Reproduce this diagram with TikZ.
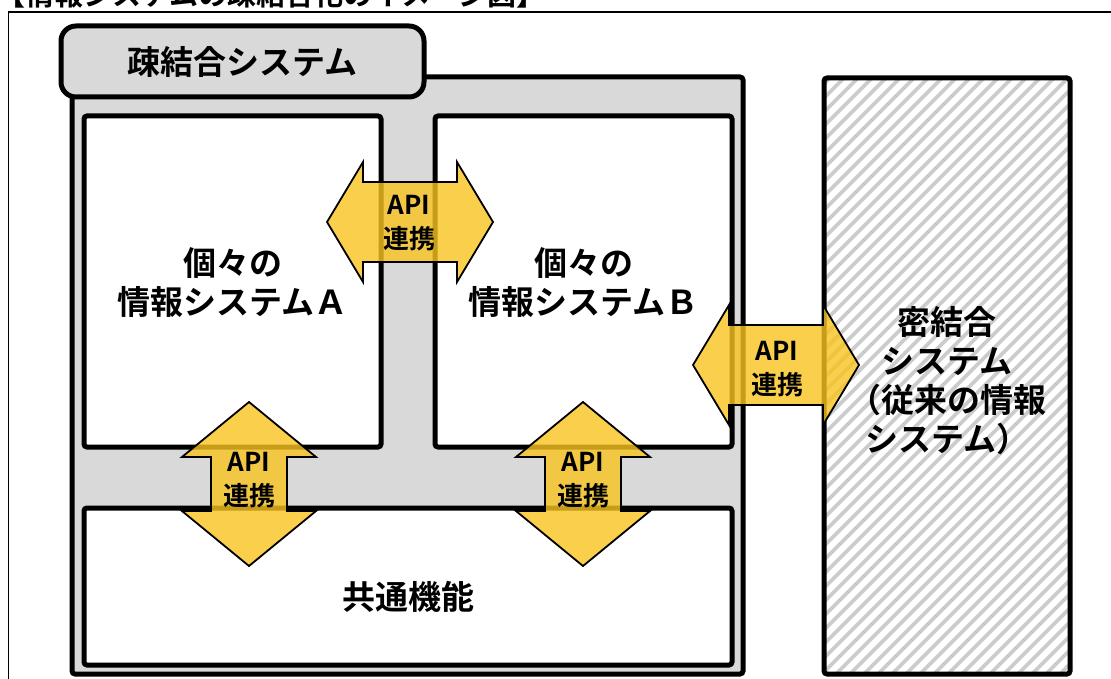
\documentclass[tikz,border=0pt]{standalone}
\usepackage{fontspec}
\setmainfont{Noto Sans CJK JP}[BoldFont={Noto Sans CJK JP Bold}]
\definecolor{boxgray}{RGB}{217,217,217}
\definecolor{stripegray}{RGB}{204,204,204}
\definecolor{apiyellow}{RGB}{248,195,30}
\tikzset{
  boxstyle/.style={draw=black, line width=5pt, fill=white, rounded corners=3pt, inner sep=0pt},
  bigtext/.style={font=\fontsize{33}{39}\selectfont\bfseries, align=center, inner sep=0pt},
  apitext/.style={font=\fontsize{26}{34}\selectfont\bfseries, align=center, inner sep=0pt},
  apiarrow/.style={draw=black, line width=1.8pt, fill=apiyellow, fill opacity=0.8, line join=miter},
  harrow/.pic={\path[apiarrow] (-83,0) -- (-47,-60) -- (-47,-40) -- (47,-40) -- (47,-60) -- (83,0) -- (47,60) -- (47,40) -- (-47,40) -- (-47,60) -- cycle;},
  varrow/.pic={\path[apiarrow] (0,-82) -- (67,-27) -- (38,-27) -- (38,27) -- (67,27) -- (0,82) -- (-67,27) -- (-38,27) -- (-38,-27) -- (-67,-27) -- cycle;}
}
\begin{document}
\begin{tikzpicture}[x=1pt, y=-1pt]
\useasboundingbox (0,0) rectangle (1111,679);
% title (cut at top)
\node[anchor=base west, inner sep=0pt, font=\fontsize{29}{29}\selectfont\bfseries] (title) at (-4,6) {【情報システムの疎結合化のイメージ図】};
% outer frame
\draw[line width=1.8pt] (8.5,12) rectangle (1130,700);
% loosely coupled container
\node[draw=black, line width=5pt, fill=boxgray, rounded corners=3pt, inner sep=0pt,
      minimum width=671pt, minimum height=597pt] (loose) at (407.5,375.5) {};
\node[draw=black, line width=5pt, fill=boxgray, rounded corners=15pt, inner sep=0pt,
      minimum width=363pt, minimum height=71pt, font=\fontsize{33}{39}\selectfont\bfseries] (tab) at (242.5,61.5) {疎結合システム};
% inner boxes
\node[boxstyle, minimum width=297pt, minimum height=331pt] (sysA) at (232.5,281.5) {};
\node[bigtext] (txtA) at (232.5,283) {個々の\\情報システムＡ};
\node[boxstyle, minimum width=297pt, minimum height=331pt] (sysB) at (583.5,281.5) {};
\node[bigtext] (txtB) at (583.5,283) {個々の\\情報システムＢ};
\node[boxstyle, minimum width=648pt, minimum height=157pt] (common) at (408,586.5) {};
\node[bigtext] (txtC) at (408,597) {共通機能};
% tightly coupled system (hatched)
\begin{scope}
  \clip (824,78) rectangle (1070,674);
  \foreach \i in {0,...,70} {
    \draw[stripegray, line width=3.6pt] ({124+\i*14},700) -- ++(700,-700);
  }
\end{scope}
\node[draw=black, line width=5pt, rounded corners=3pt, inner sep=0pt,
      minimum width=246pt, minimum height=596pt] (tight) at (947,376) {};
\node[bigtext] (txtT) at (947,381) {密結合\\システム\\（従来の情報\\システム）};
% API arrows
\coordinate (pAB) at (410,222);
\coordinate (pBT) at (776,365);
\coordinate (pAC) at (249,484);
\coordinate (pBC) at (583,484);
\pic at (pAB) {harrow};
\pic at (pBT) {harrow};
\pic at (pAC) {varrow};
\pic at (pBC) {varrow};
\node[apitext] (apiAB) at (409,223) {API\\連携};
\node[apitext] (apiBT) at (777,369) {API\\連携};
\node[apitext] (apiAC) at (249,480) {API\\連携};
\node[apitext] (apiBC) at (583,480) {API\\連携};
\end{tikzpicture}
\end{document}
